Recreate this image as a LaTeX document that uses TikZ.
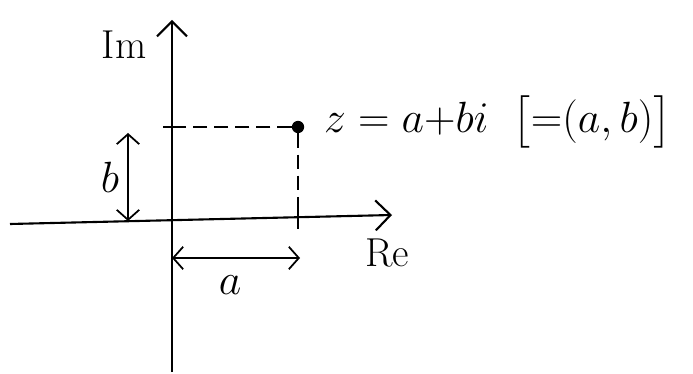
\documentclass[tikz,border=0pt]{standalone}
\usepackage{amsmath}
\usetikzlibrary{arrows.meta,positioning}

\begin{document}
\begin{tikzpicture}[
    axis/.style={-{Straight Barb[length=3mm,width=6mm]}, line width=1.2pt},
    guide/.style={line width=0.9pt, dash pattern=on 8pt off 4pt},
    tickmark/.style={line width=1.2pt},
    span/.style={{Straight Barb[length=2mm,width=4.5mm]}-{Straight Barb[length=2mm,width=4.5mm]}, line width=1pt},
    lbl/.style={font=\fontsize{23}{27}\selectfont, inner sep=1pt}
]
\useasboundingbox (-3.44,-3.08) rectangle (10.42,4.4);

% axes
\coordinate (o) at (0,0);
\coordinate (xl) at (-3.24,-0.08);
\coordinate (xr) at (4.4,0.1);
\coordinate (yb) at (0,-3.04);
\coordinate (yt) at (0,4.0);
\draw[axis] (xl) -- (xr);
\draw[axis] (yb) -- (yt);
\node[lbl] (im) at (-0.96,3.5) {Im};
\node[lbl] (re) at (4.3,-0.66) {Re};

% the point z
\node[circle, fill, inner sep=0pt, minimum size=7pt] (z) at (2.52,1.86) {};
\node[lbl, right=0.35cm of z, yshift=3pt] (zlbl) {$z = a{+}bi\;\;\bigl[{=}(a,b)\bigr]$};

% projections
\coordinate (zy) at (0,1.86);
\coordinate (zyl) at (-0.18,1.86);
\coordinate (zx) at (2.52,0.06);
\coordinate (zxt) at (2.52,0.2);
\coordinate (zxb) at (2.52,-0.18);
\draw[guide] (z) -- (zy);
\draw[guide] (z) -- (zx);
\draw[tickmark] (zyl) -- (zy);
\draw[tickmark] (zxt) -- (zxb);

% components
\coordinate (bt) at (-0.88,1.74);
\coordinate (bb) at (-0.88,-0.02);
\coordinate (al) at (0,-0.76);
\coordinate (ar) at (2.56,-0.76);
\draw[span] (bb) -- (bt);
\draw[span] (al) -- (ar);
\node[lbl] (b) at (-1.24,0.86) {$b$};
\node[lbl] (a) at (1.16,-1.3) {$a$};

\end{tikzpicture}
\end{document}
